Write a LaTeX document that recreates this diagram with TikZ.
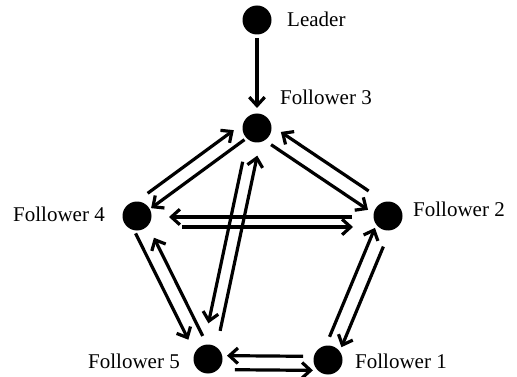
\documentclass[tikz,border=0pt]{standalone}
\usepackage{fontspec}
\setmainfont{Liberation Serif}
\usetikzlibrary{calc,arrows.meta}
\tikzset{
  agent/.style={circle,fill=black,minimum size=29pt,inner sep=0pt},
  lbl/.style={anchor=base west,inner sep=0pt,font=\fontsize{21}{25}\selectfont},
  arrowline/.style={line width=3.2pt,-{Straight Barb[length=8.5pt,width=15.5pt]}},
}
% \arr{from}{to}{offset (left +)}{shorten start}{shorten end}
\newcommand\arr[5]{%
  \path ($(#1.center)!#4!(#2.center)$) coordinate (arrS);
  \path ($(#2.center)!#5!(#1.center)$) coordinate (arrE);
  \draw[arrowline] ($(arrS)!#3!90:(#2.center)$) -- ($(arrE)!#3!-90:(#1.center)$);
}
\begin{document}
\begin{tikzpicture}[x=1pt,y=-1pt]
\useasboundingbox (0,0) rectangle (517,377);
\node[agent] (L)  at (257,20)  {};
\node[agent] (F3) at (257,128) {};
\node[agent] (F4) at (137,216) {};
\node[agent] (F2) at (388,216) {};
\node[agent] (F5) at (208,359) {};
\node[agent] (F1) at (328,360) {};
\node[lbl] (tL)  at (287,27)  {Leader};
\node[lbl] (t3)  at (280,105) {Follower 3};
\node[lbl] (t2)  at (413,216) {Follower 2};
\node[lbl] (t4)  at (13,221)  {Follower 4};
\node[lbl] (t5)  at (88,368)  {Follower 5};
\node[lbl] (t1)  at (355,368) {Follower 1};
\arr{L}{F3}{0pt}{18pt}{20pt}
\arr{F4}{F3}{12pt}{22pt}{20pt}
\arr{F3}{F4}{2pt}{17pt}{16pt}
\arr{F3}{F2}{-6pt}{21pt}{20pt}
\arr{F2}{F3}{-10pt}{30pt}{22pt}
\arr{F4}{F2}{-11pt}{45pt}{35pt}
\arr{F2}{F4}{1pt}{36pt}{32pt}
\arr{F4}{F5}{-9pt}{15pt}{26pt}
\arr{F5}{F4}{-5.5pt}{23pt}{27pt}
\arr{F3}{F5}{-7pt}{36pt}{35pt}
\arr{F5}{F3}{-6pt}{30pt}{27pt}
\arr{F1}{F5}{-3.5pt}{25pt}{19pt}
\arr{F5}{F1}{-10.5pt}{27pt}{15pt}
\arr{F1}{F2}{7.5pt}{22pt}{16pt}
\arr{F2}{F1}{7.5pt}{30pt}{17pt}
\end{tikzpicture}
\end{document}
